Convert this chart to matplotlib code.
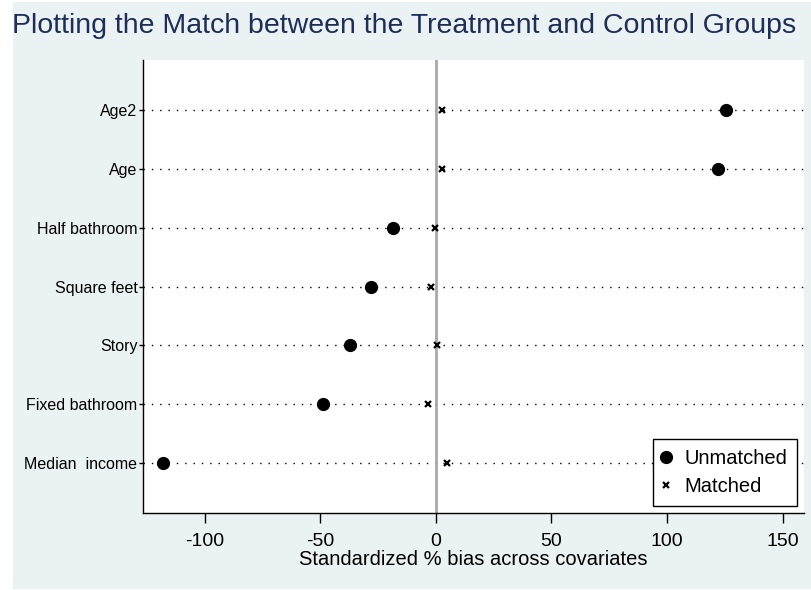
import matplotlib
matplotlib.use("Agg")
import matplotlib.pyplot as plt
from matplotlib.patches import Rectangle

plt.rcParams['font.family'] = ['Liberation Sans', 'DejaVu Sans']

categories = ["Median  income", "Fixed bathroom", "Story", "Square feet",
              "Half bathroom", "Age", "Age2"]
unmatched = [-118.1, -48.8, -37.2, -28.1, -18.8, 121.9, 125.4]
matched = [4.8, -3.6, 0.4, -2.2, -0.4, 2.5, 2.4]
xticks = [-100, -50, 0, 50, 100, 150]

W, H = 812, 590
fig = plt.figure(figsize=(W / 100, H / 100), dpi=100, facecolor="white")
bg = Rectangle((13 / W, 1 / H), (W - 13) / W, (H - 3) / H,
               transform=fig.transFigure, facecolor="#eaf2f3",
               edgecolor="none", zorder=-10)
fig.patches.append(bg)

ax = fig.add_axes([143 / W, (H - 513) / H, 661 / W, 453 / H])
ax.set_zorder(5)
ax.set_facecolor("white")

ypos = list(range(1, len(categories) + 1))
for y in ypos:
    ax.axhline(y, color="black", linestyle=(0, (1, 5)), linewidth=1.0, zorder=1)
ax.axvline(0, color="#a9a9a9", linewidth=2.0, zorder=1)

ax.plot(unmatched, ypos, linestyle="none", marker="o", markersize=8.5,
        color="black", zorder=3, label="Unmatched")
ax.plot(matched, ypos, linestyle="none", marker="x", markersize=5,
        markeredgewidth=1.6, color="black", zorder=3, label="Matched")

ax.set_xlim(-126.8, 159.3)
ax.set_ylim(0.15, 7.85)
ax.set_yticks(ypos)
ax.set_yticklabels(categories, fontsize=11.5)
ax.set_xticks(xticks)
ax.set_xticklabels([str(v) for v in xticks], fontsize=14)
ax.tick_params(axis="x", length=7, width=1, pad=7.5, direction="out")
ax.tick_params(axis="y", length=3, width=1, pad=1, direction="out")
ax.spines["top"].set_visible(False)
ax.spines["right"].set_visible(False)
ax.spines["left"].set_linewidth(1.0)
ax.spines["bottom"].set_linewidth(1.0)
ax.set_xlabel("Standardized % bias across covariates", fontsize=14.5, labelpad=0)

leg = ax.legend(loc="lower right", bbox_to_anchor=(797 / W, (H - 506) / H),
                bbox_transform=fig.transFigure, fontsize=14.5, frameon=True,
                fancybox=False, edgecolor="black", framealpha=1,
                handlelength=0.3, handletextpad=0.75, borderpad=0.5,
                labelspacing=0.45, borderaxespad=0)
leg.get_frame().set_linewidth(1.0)

fig.text(12.5 / W, 1 - 33.3 / H, "Plotting the Match between the Treatment and Control Groups",
         fontsize=20.5, color="#1e2e56", ha="left", va="baseline")

fig.savefig("out.png", dpi=100, facecolor=fig.get_facecolor())
